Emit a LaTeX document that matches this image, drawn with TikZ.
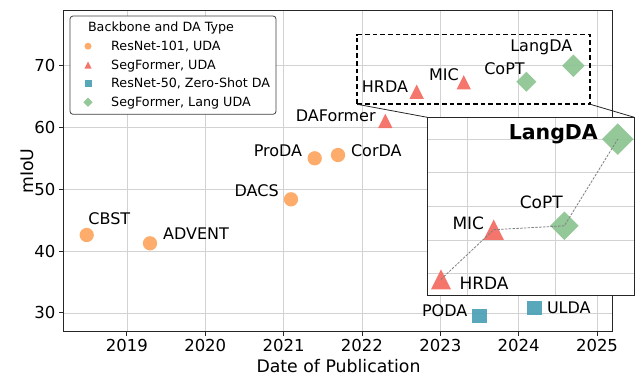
\documentclass[tikz,border=0pt]{standalone}
\usepackage{fontspec}
\setmainfont{DejaVu Sans}
\usetikzlibrary{shapes.geometric}
\definecolor{cOrange}{RGB}{253,165,95}
\definecolor{cRed}{RGB}{243,106,95}
\definecolor{cTeal}{RGB}{74,160,180}
\definecolor{cGreen}{RGB}{140,196,144}
\definecolor{cGrid}{RGB}{210,210,210}
\newcommand\myfs[1]{\fontsize{#1}{#1}\selectfont}
\tikzset{
  omark/.style={circle, fill=cOrange, fill opacity=0.92, minimum size=#1, inner sep=0pt, outer sep=0pt},
  tmark/.style={rectangle, minimum size=#1, inner sep=0pt, outer sep=0pt,
    path picture={\fill[cRed, fill opacity=0.92] (path picture bounding box.south west) -- (path picture bounding box.south east) -- (path picture bounding box.north) -- cycle;}},
  smark/.style={rectangle, fill=cTeal, fill opacity=0.92, minimum size=#1, inner sep=0pt, outer sep=0pt},
  dmark/.style={diamond, aspect=1, fill=cGreen, fill opacity=0.92, minimum size=#1, inner sep=0pt, outer sep=0pt},
  gridline/.style={draw=cGrid, line width=0.8pt},
  frameline/.style={draw=black!85, line width=0.9pt},
  annot/.style={font=\myfs{16}, inner sep=0pt, anchor=base},
  insannot/.style={font=\myfs{17}, inner sep=0pt, anchor=base},
  ticklbl/.style={font=\myfs{16.5}, inner sep=0pt},
  axlbl/.style={font=\myfs{17.3}, inner sep=0pt, anchor=base},
  legtext/.style={font=\myfs{12.7}, inner sep=0pt, anchor=base west},
  zoomline/.style={draw=black!85, line width=0.8pt},
}
\begin{document}
\begin{tikzpicture}[x=1pt,y=-1pt]
\useasboundingbox (0,0) rectangle (636,378);
% main grid
\foreach \gx in {126.9,205.25,283.6,361.95,440.3,518.65,597.0}
  \draw[gridline] (\gx,10) -- (\gx,331.7);
\foreach \gy in {65.3,127.2,189.1,251,312.9}
  \draw[gridline] (63.3,\gy) -- (612.7,\gy);
% ticks and tick labels
\foreach \gx/\yr in {126.9/2019,205.25/2020,283.6/2021,361.95/2022,440.3/2023,518.65/2024,597.0/2025}{
  \draw[frameline] (\gx,331.7) -- (\gx,335.7);
  \node[ticklbl, anchor=base] (xt\yr) at (\gx,351.7) {\yr};
}
\foreach \gy/\v in {65.3/70,127.2/60,189.1/50,251/40,312.9/30}{
  \draw[frameline] (63.3,\gy) -- (59.3,\gy);
  \node[ticklbl, anchor=east] (yt\v) at (55.5,\gy) {\v};
}
\node[axlbl] (xlabel) at (338.5,372.7) {Date of Publication};
\node[axlbl, rotate=90] (ylabel) at (33.3,171.2) {mIoU};
% main markers
\node[omark=14.3] (cbst) at (86.7,235) {};
\node[omark=14.3] (advent) at (150,243.3) {};
\node[omark=14.3] (dacs) at (291,199.3) {};
\node[omark=14.3] (proda) at (314.7,158.3) {};
\node[omark=14.3] (corda) at (338,155) {};
\node[tmark=14.3] (daformer) at (385.3,120.9) {};
\node[tmark=14.3] (hrda) at (416.7,91.7) {};
\node[tmark=14.3] (mic) at (463.7,82.3) {};
\node[dmark=20] (copt) at (526.3,81.7) {};
\node[dmark=22.5] (langda) at (573.3,65.7) {};
\node[smark=14.3] (poda) at (479.6,316.2) {};
\node[smark=14.3] (ulda) at (534.6,308) {};
% main labels
\node[annot] (lcbst) at (109.3,224.3) {CBST};
\node[annot] (ladvent) at (196,239) {ADVENT};
\node[annot] (ldacs) at (256.7,196.7) {DACS};
\node[annot] (lproda) at (278,156) {ProDA};
\node[annot] (lcorda) at (376.3,156) {CorDA};
\node[annot] (ldaformer) at (335.8,121.7) {DAFormer};
\node[annot] (lhrda) at (385,92.7) {HRDA};
\node[annot] (lmic) at (444,80) {MIC};
\node[annot] (lcopt) at (504.5,74.3) {CoPT};
\node[annot] (llangda) at (541.3,51) {LangDA};
\node[annot] (lpoda) at (444.7,316) {PODA};
\node[annot] (lulda) at (568.8,313.7) {ULDA};
% zoom box
\node[draw=black, line width=1.8pt, dash pattern=on 4.7pt off 3pt, minimum width=233pt, minimum height=69.8pt,
      anchor=north west, inner sep=0pt, outer sep=0pt] (zoombox) at (357.3,34.5) {};
% axes frame
\draw[frameline] (63.3,10) rectangle (612.7,331.7);
% legend
\node[draw=black!75, line width=0.8pt, fill=white, rounded corners=3pt, minimum width=206pt, minimum height=98.3pt,
      anchor=north west, inner sep=0pt, outer sep=0pt] (legend) at (70,16) {};
\node[font=\myfs{12.7}, inner sep=0pt, anchor=base] (legtitle) at (161,31) {Backbone and DA Type};
\node[omark=7] (lg1) at (88,46.2) {};
\node[legtext] (lt1) at (111,50) {ResNet-101, UDA};
\node[tmark=7] (lg2) at (88,65) {};
\node[legtext] (lt2) at (111,69) {SegFormer, UDA};
\node[smark=7] (lg3) at (88,83.6) {};
\node[legtext] (lt3) at (111,87.7) {ResNet-50, Zero-Shot DA};
\node[dmark=9.3] (lg4) at (88,102.3) {};
\node[legtext] (lt4) at (111,106.7) {SegFormer, Lang UDA};
% inset
\node[fill=white, minimum width=207pt, minimum height=178pt, anchor=north west, inner sep=0pt, outer sep=0pt] (inset) at (427.3,117.3) {};
\draw[zoomline] (zoombox.south west) -- (inset.north west);
\draw[zoomline] (zoombox.south east) -- (inset.north east);
\foreach \gx in {467.3,555.3}
  \draw[gridline] (\gx,117.3) -- (\gx,295.3);
\foreach \gy in {139.3,172.7,206.7,240,273.3}
  \draw[gridline] (427.3,\gy) -- (634.3,\gy);
\node[tmark=20] (ihrda) at (441,279.3) {};
\node[tmark=20.5] (imic) at (493.7,229.7) {};
\node[dmark=28.5] (icopt) at (564.3,225.8) {};
\node[dmark=31.5] (ilangda) at (617.7,139.2) {};
\draw[draw=gray, line width=0.8pt, dash pattern=on 2.5pt off 1.3pt]
  (ihrda.center) -- (imic.center) -- (icopt.center) -- (ilangda.center);
\node[font=\myfs{20.5}\bfseries, inner sep=0pt, anchor=base] (ilabel) at (553.3,139) {LangDA};
\node[insannot] (ilhrda) at (484,289.3) {HRDA};
\node[insannot] (ilmic) at (468.3,229.3) {MIC};
\node[insannot] (ilcopt) at (541.3,208.7) {CoPT};
\draw[frameline] (inset.north west) rectangle (inset.south east);
\end{tikzpicture}
\end{document}
